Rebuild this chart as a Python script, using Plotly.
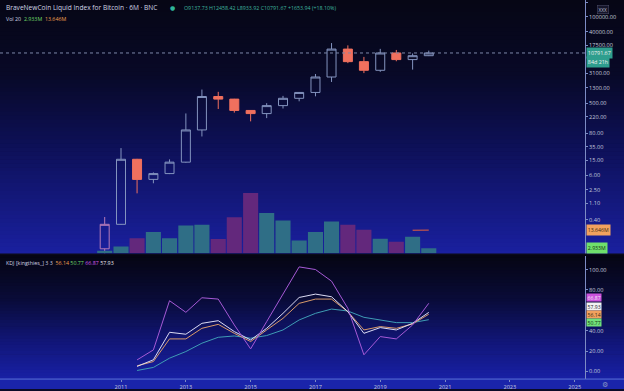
import math
import pandas as pd
import plotly.graph_objects as go

W, H = 624, 391

# ---------------- data ----------------
dates = ["2010-07-01", "2011-01-01", "2011-07-01", "2012-01-01", "2012-07-01",
         "2013-01-01", "2013-07-01", "2014-01-01", "2014-07-01", "2015-01-01",
         "2015-07-01", "2016-01-01", "2016-07-01", "2017-01-01", "2017-07-01",
         "2018-01-01", "2018-07-01", "2019-01-01", "2019-07-01", "2020-01-01",
         "2020-07-01"]
opens = [0.067, 0.30, 16.1, 4.7, 6.7, 13.5, 97, 750, 640, 320, 264, 430, 673, 963,
         2480, 13700, 6350, 3740, 10800, 7200, 9137.73]
highs = [0.47, 31.9, 16.5, 7.2, 16.0, 266, 1150, 1000, 650, 320, 500, 780, 980, 2980,
         19800, 17200, 8480, 13880, 13000, 10500, 12458.42]
lows = [0.05, 0.29, 2.0, 3.7, 6.5, 13.0, 65, 350, 280, 164, 200, 360, 560, 760,
        1830, 5800, 3150, 3400, 6500, 3900, 8933.92]
closes = [0.30, 16.1, 4.7, 6.7, 13.5, 97, 750, 640, 320, 264, 430, 673, 963, 2480,
          13700, 6350, 3740, 10800, 7200, 9137.73, 10791.67]
volume_m = [1.5, 3.98, 8.8, 12.5, 8.9, 16.3, 16.8, 8.4, 21.3, 35.6, 23.8, 19.3, 7.5,
            12.5, 18.7, 16.8, 13.8, 8.5, 6.8, 9.7, 2.933]

kdj_dates = dates[2:]
k_vals = [5.5, 9.7, 31.9, 31.9, 42.3, 46.2, 37.4, 29.3, 40.7, 52.1, 66.8, 71.0, 71.0,
          58.6, 40.7, 44.0, 42.3, 46.6, 56.14]
d_vals = [0.9, 3.9, 13.0, 19.5, 27.7, 33.5, 34.8, 32.6, 35.2, 40.7, 50.5, 57.0, 61.2,
          59.3, 53.1, 50.5, 47.9, 47.9, 50.77]
j_vals = [11.3, 21.1, 69.4, 58.0, 72.3, 71.0, 45.6, 22.1, 48.9, 75.9, 102.6, 100.0,
          88.6, 61.9, 16.3, 34.2, 31.9, 45.6, 66.87]
w_vals = [4.9, 11.4, 38.4, 36.5, 47.2, 49.8, 39.1, 30.9, 42.3, 57.0, 72.6, 75.9, 73.3,
          58.6, 37.4, 43.0, 40.7, 47.2, 57.93]

price_ticks = [0.4, 1.1, 2.5, 6, 15, 35, 80, 220, 500, 1300, 3100, 17500, 40000,
               100000, 240000]
kdj_ticks = [0, 20, 40, 80, 100]
year_ticks = ["2011", "2013", "2015", "2017", "2019", "2021", "2023", "2025"]

# ---------------- geometry helpers ----------------
XR = 585 / W


def py(px):
    return 1 - px / H


vol_ma = pd.Series(volume_m).rolling(20).mean().tolist()

UP = "#8494bf"
DOWN = "#f0705e"
VOL_UP = "#2f6e86"
VOL_DN = "#63287c"

fig = go.Figure()

# candles
fig.add_trace(go.Candlestick(
    x=dates[:1], open=opens[:1], high=highs[:1], low=lows[:1], close=closes[:1],
    increasing=dict(line=dict(color="#b67bb8", width=1), fillcolor="rgba(0,0,0,0)"),
    decreasing=dict(line=dict(color=DOWN, width=1), fillcolor=DOWN),
    whiskerwidth=0, showlegend=False, hoverinfo="skip", xaxis="x", yaxis="y"))
fig.add_trace(go.Candlestick(
    x=dates[1:], open=opens[1:], high=highs[1:], low=lows[1:], close=closes[1:],
    increasing=dict(line=dict(color=UP, width=1), fillcolor="rgba(0,0,0,0)"),
    decreasing=dict(line=dict(color=DOWN, width=1), fillcolor=DOWN),
    whiskerwidth=0, showlegend=False, hoverinfo="skip", xaxis="x", yaxis="y"))

# volume
vcolors = [VOL_UP if c >= o else VOL_DN for o, c in zip(opens, closes)]
fig.add_trace(go.Bar(x=dates, y=volume_m, marker=dict(color=vcolors, line=dict(width=0)),
                     showlegend=False, hoverinfo="skip", xaxis="x", yaxis="y3"))
fig.add_trace(go.Scatter(x=dates, y=vol_ma, mode="lines", line=dict(color="#e8603c", width=1),
                         showlegend=False, hoverinfo="skip", xaxis="x", yaxis="y3"))

# KDJ
fig.add_trace(go.Scatter(x=kdj_dates, y=d_vals, mode="lines", line=dict(color="#3f9cb4", width=1),
                         showlegend=False, xaxis="x", yaxis="y2"))
fig.add_trace(go.Scatter(x=kdj_dates, y=k_vals, mode="lines", line=dict(color="#d89a6a", width=1),
                         showlegend=False, xaxis="x", yaxis="y2"))
fig.add_trace(go.Scatter(x=kdj_dates, y=w_vals, mode="lines", line=dict(color="#dcdcf4", width=1),
                         showlegend=False, xaxis="x", yaxis="y2"))
fig.add_trace(go.Scatter(x=kdj_dates, y=j_vals, mode="lines", line=dict(color="#a65ad6", width=1),
                         showlegend=False, xaxis="x", yaxis="y2"))

# ---------------- background gradient ----------------
shapes = []


def lerp_color(stops, t):
    for i in range(len(stops) - 1):
        t0, c0 = stops[i]
        t1, c1 = stops[i + 1]
        if t0 <= t <= t1:
            f = (t - t0) / (t1 - t0)
            c = [round(c0[k] + (c1[k] - c0[k]) * f) for k in range(3)]
            return "rgb(%d,%d,%d)" % tuple(c)
    return "rgb(%d,%d,%d)" % tuple(stops[-1][1])


def gradient(p0, p1, stops, n):
    step = (p1 - p0) / n
    for i in range(n):
        a = p0 + i * step
        b = a + step + 0.6
        shapes.append(dict(type="rect", xref="paper", yref="paper", x0=0, x1=1,
                           y0=py(min(b, p1)), y1=py(a), line=dict(width=0),
                           fillcolor=lerp_color(stops, (i + 0.5) / n), layer="below"))


main_stops = [(0, (6, 6, 20)), (0.3, (8, 9, 40)), (0.6, (14, 17, 92)), (1, (26, 32, 160))]
low_stops = [(0, (5, 5, 18)), (0.35, (9, 11, 55)), (0.7, (17, 22, 120)), (1, (24, 32, 165))]
gradient(0, 256, main_stops, 64)
gradient(256, 381, low_stops, 40)
shapes.append(dict(type="rect", xref="paper", yref="paper", x0=0, x1=1, y0=0, y1=py(381),
                   line=dict(width=0), fillcolor="rgb(26,36,170)", layer="below"))
# separators
shapes.append(dict(type="line", xref="paper", yref="paper", x0=0, x1=1, y0=py(255.5), y1=py(255.5),
                   line=dict(color="#0a0a1a", width=1.5)))
shapes.append(dict(type="line", xref="paper", yref="paper", x0=0, x1=1, y0=py(381), y1=py(381),
                   line=dict(color="#5a72d8", width=1)))
# last price line
shapes.append(dict(type="line", xref="paper", yref="y", x0=0, x1=XR, y0=closes[-1], y1=closes[-1],
                   line=dict(color="#7d88a8", width=1, dash="dot")))

# ---------------- annotations ----------------
ann = []
FONT = "Open Sans"
GREEN = "#3fb59e"
ann.append(dict(xref="paper", yref="paper", x=4 / W, y=py(8), xanchor="left", yanchor="middle",
                text="BraveNewCoin Liquid Index for Bitcoin · 6M · BNC", showarrow=False,
                font=dict(family=FONT, size=6.6, color="#d0d4e4")))
ann.append(dict(xref="paper", yref="paper", x=172 / W, y=py(8), xanchor="center", yanchor="middle",
                text="●", showarrow=False, font=dict(family="DejaVu Sans", size=6, color="#2fb59a")))
ohlc = "O%.2f H%.2f L%.2f C%.2f %+.2f (%+.2f%%)" % (
    opens[-1], highs[-1], lows[-1], closes[-1], closes[-1] - opens[-1],
    (closes[-1] - opens[-1]) / opens[-1] * 100)
ann.append(dict(xref="paper", yref="paper", x=182 / W, y=py(8), xanchor="left", yanchor="middle",
                text=ohlc, showarrow=False, font=dict(family=FONT, size=5.3, color=GREEN)))
ann.append(dict(xref="paper", yref="paper", x=4 / W, y=py(19.5), xanchor="left", yanchor="middle",
                text="Vol 20  <span style='color:#6fdc6a'>%.3fM</span>  <span style='color:#f0a050'>%.3fM</span>"
                     % (volume_m[-1], vol_ma[-1]),
                showarrow=False, font=dict(family=FONT, size=5.3, color="#d0d4e4")))
ann.append(dict(xref="paper", yref="paper", x=4 / W, y=py(264.5), xanchor="left", yanchor="middle",
                text="KDJ [kingthies_] 3 3  <span style='color:#f0a050'>%.2f</span> "
                     "<span style='color:#6fdc6a'>%.2f</span> <span style='color:#d25ae6'>%.2f</span> "
                     "<span style='color:#e8e8f0'>%.2f</span>" % (k_vals[-1], d_vals[-1], j_vals[-1], w_vals[-1]),
                showarrow=False, font=dict(family=FONT, size=5.3, color="#d0d4e4")))


def tag(text, yref, yval, bg, fg, size=5.6, pad=1):
    ann.append(dict(xref="paper", yref=yref, x=XR + 0.5 / W, y=yval, xanchor="left", yanchor="middle",
                    text=text, showarrow=False, bgcolor=bg, borderpad=pad,
                    font=dict(family=FONT, size=size, color=fg)))


tag("%.2f" % closes[-1], "y", math.log10(closes[-1]), "#2e9e8e", "#f0f0f0", 5.4, 0.8)
tag("84d 21h", "y", math.log10(closes[-1]) - 0.235, "#2e9e8e", "#f0f0f0", 5.4, 0.8)
tag("%.3fM" % vol_ma[-1], "y3", vol_ma[-1], "#f2a15e", "#3a2a10", 5.2, 0.8)
tag("%.3fM" % volume_m[-1], "y3", volume_m[-1], "#6fe06c", "#103010", 5.2, 0.8)
# KDJ last-value tags (stacked so they don't collide)
tag("%.2f" % j_vals[-1], "y2", 72.3, "#cc52dc", "#f4e4f8", 5.1, 0.6)
tag("%.2f" % w_vals[-1], "y2", 64.1, "#f2f2f2", "#202030", 5.1, 0.6)
tag("%.2f" % k_vals[-1], "y2", 56.0, "#f2a15e", "#3a2a10", 5.1, 0.6)
tag("%.2f" % d_vals[-1], "y2", 47.9, "#72e07a", "#103010", 5.1, 0.6)
ann.append(dict(xref="paper", yref="paper", x=603 / W, y=py(9.5), xanchor="center", yanchor="middle",
                text="XXX", showarrow=False, bgcolor="#15152a", bordercolor="#50506a", borderwidth=0.5,
                borderpad=1, font=dict(family=FONT, size=4.8, color="#b8bccc")))
ann.append(dict(xref="paper", yref="paper", x=605 / W, y=py(386.5), xanchor="center", yanchor="middle",
                text="⚙", showarrow=False, font=dict(family="DejaVu Sans", size=7, color="#8894c4")))

AX = "#7d8cc4"
TICKF = dict(family=FONT, size=5.6, color="#c4c8dc")

fig.update_layout(
    width=W, height=H, margin=dict(l=0, r=0, t=0, b=0),
    paper_bgcolor="rgb(10,10,40)", plot_bgcolor="rgba(0,0,0,0)",
    showlegend=False, boxgap=0.2, bargap=0.06,
    shapes=shapes, annotations=ann,
    xaxis=dict(domain=[0, XR], type="date", range=["2007-04-08", "2025-04-27"], anchor="y2",
               tickvals=[y + "-01-01" for y in year_ticks], ticktext=year_ticks,
               ticks="outside", ticklen=2, tickcolor=AX, tickfont=TICKF,
               showgrid=False, zeroline=False, showline=False, rangeslider=dict(visible=False),
               fixedrange=True),
    yaxis=dict(domain=[py(255), 1], type="log", range=[-1.304, 5.442], side="right", anchor="x",
               tickvals=price_ticks, ticktext=["%.2f" % v for v in price_ticks],
               ticks="outside", ticklen=2, tickcolor=AX, tickfont=TICKF,
               showgrid=False, zeroline=False, showline=True, linecolor=AX, linewidth=1),
    yaxis2=dict(domain=[py(381), py(257)], range=[-7.5, 113.6], side="right", anchor="x",
                tickvals=kdj_ticks, ticktext=["%.2f" % v for v in kdj_ticks],
                ticks="outside", ticklen=2, tickcolor=AX, tickfont=TICKF,
                showgrid=False, zeroline=False, showline=True, linecolor=AX, linewidth=1),
    yaxis3=dict(overlaying="y", range=[-0.3, 149.7], visible=False, anchor="x"),
)

fig.write_html("out.html")
